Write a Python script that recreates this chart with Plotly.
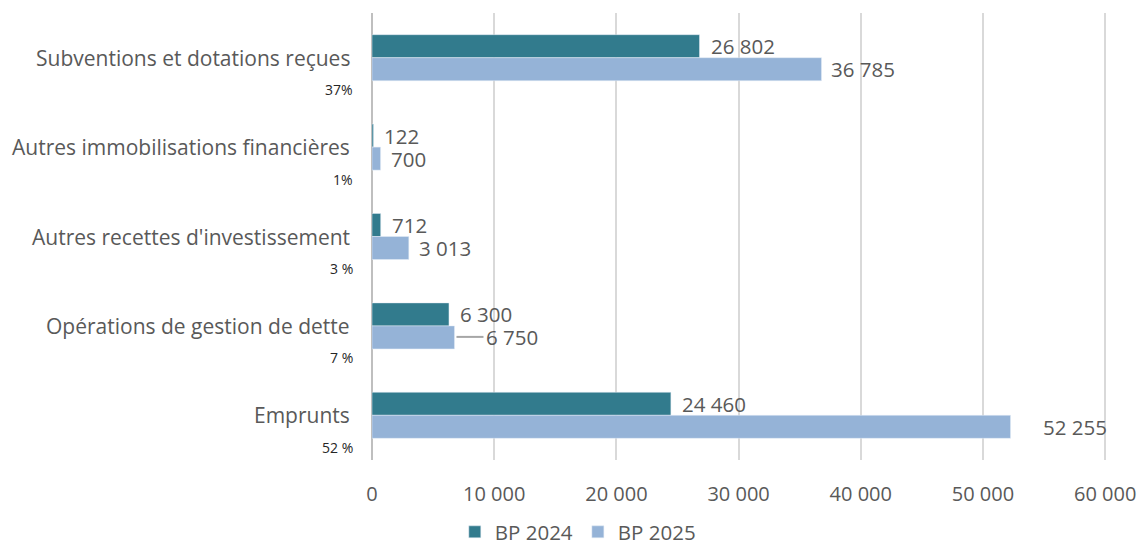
import plotly.graph_objects as go

categories = ["Subventions et dotations reçues", "Autres immobilisations financières",
              "Autres recettes d'investissement", "Opérations de gestion de dette", "Emprunts"]
shares = ["37%", "1%", "3 %", "7 %", "52 %"]
bp2024 = [26802, 122, 712, 6300, 24460]
bp2025 = [36785, 700, 3013, 6750, 52255]
tick_vals = [0, 10000, 20000, 30000, 40000, 50000, 60000]

C24 = "#327B8D"
C25 = "#95B3D7"
GREY = "#595959"
FONT = "Open Sans, Liberation Sans, Arial"

def fmt(v):
    return f"{v:,}".replace(",", " ")

fig = go.Figure()
fig.add_trace(go.Bar(y=categories, x=bp2024, orientation="h", name="BP 2024",
                     marker=dict(color=C24), hoverinfo="x"))
fig.add_trace(go.Bar(y=categories, x=bp2025, orientation="h", name="BP 2025",
                     marker=dict(color=C25), hoverinfo="x"))

PLOT_W = 735
ann = []
for i, c in enumerate(categories):
    ann.append(dict(x=bp2024[i], y=c, yshift=11.5, xshift=10, text=fmt(bp2024[i]),
                    xanchor="left", yanchor="middle", showarrow=False, height=20,
                    borderpad=0, font=dict(size=20.5, color=GREY, family=FONT)))
    shift = 9
    if bp2025[i] == 6750:
        shift = 31
    if bp2025[i] == 52255:
        shift = 31
    ann.append(dict(x=bp2025[i], y=c, yshift=-11.5, xshift=shift, text=fmt(bp2025[i]),
                    xanchor="left", yanchor="middle", showarrow=False, height=20,
                    borderpad=0, font=dict(size=20.5, color=GREY, family=FONT)))
    ann.append(dict(x=-20 / PLOT_W, xref="paper", y=c, yshift=0, text=c, xanchor="right",
                    yanchor="middle", showarrow=False,
                    font=dict(size=21, color=GREY, family=FONT)))
    ann.append(dict(x=-17 / PLOT_W, xref="paper", y=c, yshift=-32, text=shares[i], xanchor="right",
                    yanchor="middle", showarrow=False,
                    font=dict(size=14, color="#262626", family=FONT)))

idx = bp2025.index(6750)
shapes = [dict(type="line", xref="x", yref="y",
               xsizemode="pixel", xanchor=bp2025[idx], ysizemode="pixel", yanchor=idx,
               x0=2, x1=29, y0=-11, y1=-11,
               line=dict(color="#A6A6A6", width=2))]

fig.update_layout(
    barmode="group", bargap=0.485, bargroupgap=0,
    width=1141, height=552,
    margin=dict(l=372, r=34, t=13, b=92, autoexpand=False),
    plot_bgcolor="white", paper_bgcolor="white",
    separators=", ",
    font=dict(family=FONT, color=GREY, size=19),
    xaxis=dict(range=[0, 60150], tickvals=tick_vals, tickformat=",d", automargin=False,
               showgrid=True, gridcolor="#D9D9D9", gridwidth=2,
               zeroline=True, zerolinecolor="#BFBFBF", zerolinewidth=2,
               ticklabelstandoff=20, tickfont=dict(size=20, color=GREY, family=FONT),
               fixedrange=True),
    yaxis=dict(autorange="reversed", showticklabels=False, showgrid=False, fixedrange=True,
               automargin=False),
    legend=dict(orientation="h", x=0.28, xanchor="center", yref="container",
                y=0.0, yanchor="bottom", tracegroupgap=0,
                font=dict(size=20.5, color=GREY, family=FONT), traceorder="normal"),
    annotations=ann, shapes=shapes, showlegend=True,
)

fig.write_html("out.html")
